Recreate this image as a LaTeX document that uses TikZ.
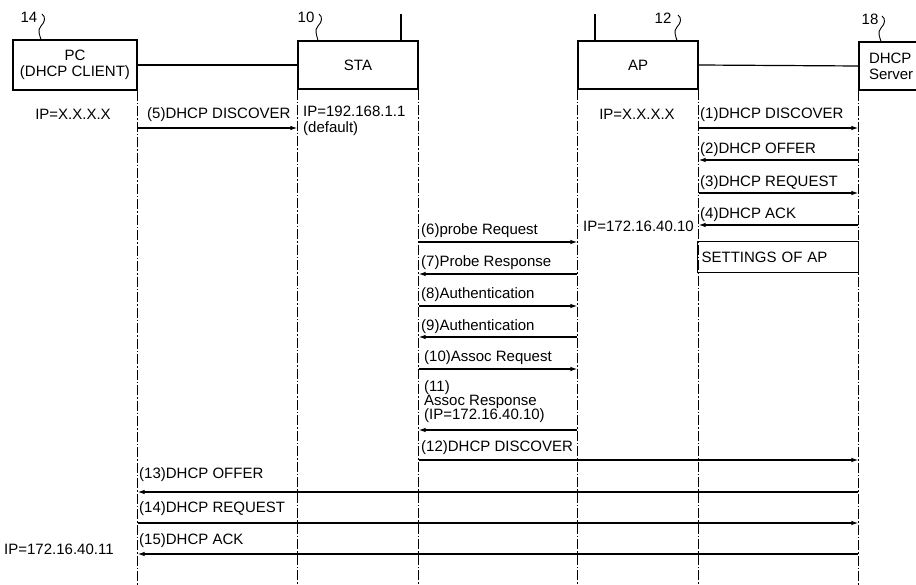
\documentclass[tikz,border=0pt]{standalone}
\usepackage{fontspec}
\setmainfont{Liberation Sans}
\usetikzlibrary{arrows.meta}
\begin{document}
\begin{tikzpicture}[x=1pt,y=-1pt,
  every node/.style={font=\fontsize{15}{16}\selectfont},
  box/.style={draw,line width=1.2pt,inner sep=0pt,align=center},
  life/.style={line width=1pt,dash pattern=on 10pt off 2pt on 1.5pt off 2pt},
  msg/.style={line width=1.2pt,-{Latex[length=7pt,width=4.5pt]}},
  sq/.style={line width=0.9pt},
  lbl/.style={anchor=west,inner sep=0pt,text height=10.5pt,text depth=0pt},
  refn/.style={inner sep=0pt}]
\useasboundingbox (0,0) rectangle (916,585);
\clip (0,0) rectangle (916,585);
\fill[white] (0,0) rectangle (916,585);

% boxes
\node[box,minimum width=124pt,minimum height=50pt] (pc) at (75,65) {PC\\(DHCP CLIENT)};
\node[box,minimum width=120pt,minimum height=48pt] (sta) at (358,65) {STA};
\node[box,minimum width=120pt,minimum height=48pt] (ap) at (638,65) {AP};
\node[box,minimum width=120pt,minimum height=48pt,text width=100pt,align=left,inner xsep=10pt] (dhcp) at (919,66) {DHCP\\Server};

% links between boxes
\draw[line width=1.2pt] (pc.east) -- (sta.west);
\draw[line width=1.2pt] (ap.east) -- (dhcp.west);

% antennas
\draw[line width=1.2pt] ([xshift=43pt]sta.north) -- ++(0,-26);
\draw[line width=1.2pt] ([xshift=-43pt]ap.north) -- ++(0,-26);

% reference numerals
\node[refn] (n14) at (29,17) {14};
\node[refn] (n10) at (306,17) {10};
\node[refn] (n12) at (663,18) {12};
\node[refn] (n18) at (870,19) {18};
\draw[sq] (42,14) .. controls (46,17) and (45,22) .. (41,26) .. controls (37,30) and (40,36) .. (pc.north -| 41,0);
\draw[sq] (319,14) .. controls (323,17) and (322,22) .. (318,26) .. controls (314,30) and (317,36) .. (sta.north -| 318,0);
\draw[sq] (678,15) .. controls (682,18) and (681,23) .. (677,27) .. controls (673,31) and (676,37) .. (ap.north -| 677,0);
\draw[sq] (882,16) .. controls (886,19) and (885,24) .. (881,28) .. controls (877,32) and (880,38) .. (dhcp.north -| 881,0);

% lifelines
\draw[life] (pc.south east) -- (pc.south east |- 0,585);
\draw[life] (sta.south west) -- (sta.south west |- 0,585);
\draw[life] (sta.south east) -- (sta.south east |- 0,585);
\draw[life] (ap.south west) -- (ap.south west |- 0,585);
\draw[life] (ap.south east) -- (ap.south east |- 0,585);
\draw[life] (dhcp.south west) -- (dhcp.south west |- 0,585);

% IP labels
\node[inner sep=0pt] (ippc) at (73,114) {IP=X.X.X.X};
\node[inner sep=0pt,anchor=north west,align=left] (ipsta) at (303,106) {IP=192.168.1.1\\(default)};
\node[inner sep=0pt] (ipap) at (637,114) {IP=X.X.X.X};
\node[lbl] (ipap2) at (583,226) {IP=172.16.40.10};
\node[lbl] (ippc2) at (4,549) {IP=172.16.40.11};

% settings box
\node[box,anchor=north west,minimum width=161pt,minimum height=31pt,text width=153pt,align=left,inner xsep=4pt] (set) at (697,241) {SETTINGS OF AP};

% message labels
\node[lbl] (m5) at (147,113) {(5)DHCP DISCOVER};
\node[lbl] (m1) at (700,113) {(1)DHCP DISCOVER};
\node[lbl] (m2) at (700,148) {(2)DHCP OFFER};
\node[lbl] (m3) at (700,181) {(3)DHCP REQUEST};
\node[lbl] (m4) at (700,213) {(4)DHCP ACK};
\node[lbl] (m6) at (421,229) {(6)probe Request};
\node[lbl] (m7) at (421,261) {(7)Probe Response};
\node[lbl] (m8) at (421,293) {(8)Authentication};
\node[lbl] (m9) at (421,325) {(9)Authentication};
\node[lbl] (m10) at (424,356) {(10)Assoc Request};
\node[inner sep=0pt,anchor=north west,align=left,font=\fontsize{15}{14}\selectfont] (m11) at (424,380) {(11)\\Assoc Response\\(IP=172.16.40.10)};
\node[lbl] (m12) at (421,446) {(12)DHCP DISCOVER};
\node[lbl] (m13) at (139,473) {(13)DHCP OFFER};
\node[lbl] (m14) at (139,507) {(14)DHCP REQUEST};
\node[lbl] (m15) at (139,539) {(15)DHCP ACK};

% messages
\draw[msg] (pc.south east |- 0,128) -- (sta.south west |- 0,128);
\draw[msg] (ap.south east |- 0,128) -- (dhcp.south west |- 0,128);
\draw[msg] (dhcp.south west |- 0,160) -- (ap.south east |- 0,160);
\draw[msg] (ap.south east |- 0,193) -- (dhcp.south west |- 0,193);
\draw[msg] (dhcp.south west |- 0,225) -- (ap.south east |- 0,225);
\draw[msg] (sta.south east |- 0,242) -- (ap.south west |- 0,242);
\draw[msg] (ap.south west |- 0,274) -- (sta.south east |- 0,274);
\draw[msg] (sta.south east |- 0,306) -- (ap.south west |- 0,306);
\draw[msg] (ap.south west |- 0,337) -- (sta.south east |- 0,337);
\draw[msg] (sta.south east |- 0,369) -- (ap.south west |- 0,369);
\draw[msg] (ap.south west |- 0,430) -- (sta.south east |- 0,430);
\draw[msg] (sta.south east |- 0,460) -- (dhcp.south west |- 0,460);
\draw[msg] (dhcp.south west |- 0,492) -- (pc.south east |- 0,492);
\draw[msg] (pc.south east |- 0,523) -- (dhcp.south west |- 0,523);
\draw[msg] (dhcp.south west |- 0,554) -- (pc.south east |- 0,554);
\end{tikzpicture}
\end{document}
